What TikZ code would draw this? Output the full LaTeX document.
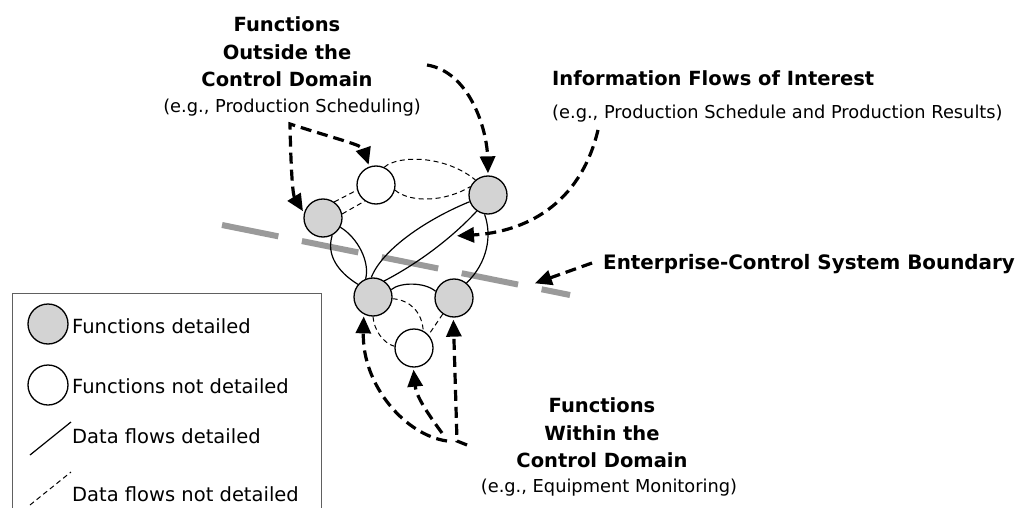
\documentclass[tikz,border=0pt]{standalone}
\usepackage{fontspec}
\setmainfont{DejaVu Sans}
\usetikzlibrary{arrows.meta}
\definecolor{fillgray}{HTML}{D3D3D3}
\definecolor{bndgray}{HTML}{9A9A9A}
\definecolor{boxgray}{HTML}{606060}
\tikzset{bigtip/.tip={Triangle[length=17pt,width=15pt]}}
\begin{document}
\begin{tikzpicture}[x=1pt,y=-1pt,
  fd/.style={circle,draw,line width=1.3pt,fill=fillgray,minimum size=38pt,inner sep=0pt},
  fn/.style={circle,draw,line width=1.3pt,fill=white,minimum size=38pt,inner sep=0pt},
  flow/.style={line width=1.2pt},
  flowdash/.style={line width=1pt,dash pattern=on 5pt off 3.5pt},
  callout/.style={line width=3.2pt,dash pattern=on 11pt off 6pt,miter limit=20,
    -{bigtip},shorten >=2pt},
  boundary/.style={bndgray,line width=6pt,dash pattern=on 57.5pt off 24pt},
  head/.style={font=\bfseries\fontsize{19.5}{27.5}\selectfont,align=center,inner sep=0pt},
  note/.style={font=\fontsize{17.8}{22}\selectfont,inner sep=0pt},
  legtext/.style={font=\fontsize{19.5}{23}\selectfont,anchor=west,inner sep=0pt}]
\useasboundingbox (0,0) rectangle (1019,508);
\clip (0,0) rectangle (1019,508);

% enterprise-control system boundary
\coordinate (bs) at (222,225);
\coordinate (be) at (570,295);
\draw[boundary] (bs) -- (be);

% functions
\node[fd] (A) at (323,218) {};
\node[fn] (B) at (376,185) {};
\node[fd] (C) at (488,195) {};
\node[fd] (D) at (373,297) {};
\node[fd] (E) at (454,298) {};
\node[fn] (F) at (414,348) {};

% detailed data flows
\draw[flow] (A.-62) .. controls (326,255) and (338,272) .. (D.140);
\draw[flow] (A.-28) .. controls (358,238) and (370,262) .. (D.112);
\draw[flow] (D.95) .. controls (382,250) and (425,220) .. (C.200);
\draw[flow] (D.55) .. controls (415,265) and (450,240) .. (C.235);
\draw[flow] (C.-100) .. controls (492,235) and (488,262) .. (E.50);
\draw[flow] (D.22) .. controls (400,282) and (425,282) .. (E.160);

% data flows not detailed
\draw[flowdash] (A.55) -- (B.195);
\draw[flowdash] (A.12) -- (B.235);
\draw[flowdash] (B.65) .. controls (398,155) and (445,155) .. (C.130);
\draw[flowdash] (B.-15) .. controls (410,203) and (445,202) .. (C.155);
\draw[flowdash] (D.-90) .. controls (374,330) and (383,343) .. (F.175);
\draw[flowdash] (D.-5) .. controls (410,300) and (422,312) .. (F.62);
\draw[flowdash] (E.-125) -- (F.42);

% labels
\node[head] (outT) at (287,52) {Functions\\Outside the\\Control Domain};
\node[note] (outE) at (292,108) {(e.g., Production Scheduling)};
\node[head,anchor=west] (infT) at (552,78) {Information Flows of Interest};
\node[note,anchor=west] (infE) at (552,114) {(e.g., Production Schedule and Production Results)};
\node[head,anchor=west,font=\bfseries\fontsize{19.9}{27.5}\selectfont] (bndT) at (603,264) {Enterprise-Control System Boundary};
\node[head] (inT) at (602,433) {Functions\\Within the\\Control Domain};
\node[note] (inE) at (609,488) {(e.g., Equipment Monitoring)};

% callout arrows
\coordinate (oc) at (290,124);
\draw[callout,{bigtip}-{bigtip},shorten <=2pt]
  (A.165) .. controls (293,195) and (291,175) .. (oc)
  .. controls (340,140) and (362,145) .. (B.110);
\coordinate (tc) at (427,65);
\draw[callout] (tc) .. controls (470,72) and (487,130) .. (C.90);
\coordinate (ic) at (598,130);
\coordinate (it) at (455,236);
\draw[callout] (ic) .. controls (580,205) and (525,232) .. (it);
\coordinate (bc) at (592,263);
\coordinate (bt) at (533,284);
\draw[callout] (bc) -- (bt);
\coordinate (hubD) at (447,441);
\coordinate (hubF) at (442,433);
\coordinate (hubE) at (467,445);
\draw[callout] (hubD) .. controls (405,435) and (362,385) .. (D.-118);
\draw[callout] (hubF) .. controls (425,410) and (416,395) .. (F.-92);
\draw[callout] (hubE) -- (457,441) -- (E.-92);

% legend
\node[draw=boxgray,line width=1.3pt,anchor=north west,minimum width=309pt,minimum height=240pt,inner sep=0pt] (legend) at (12,293) {};
\node[fd,minimum size=40pt] (k1) at (48,324) {};
\node[legtext] (k1t) at (72,326) {Functions detailed};
\node[fn,minimum size=40pt] (k2) at (48,385) {};
\node[legtext] (k2t) at (72,386) {Functions not detailed};
\coordinate (k3a) at (30,455);
\coordinate (k3b) at (71,422);
\draw[flow] (k3a) -- (k3b);
\node[legtext] (k3t) at (72,436) {Data flows detailed};
\coordinate (k4a) at (30,505);
\coordinate (k4b) at (71,472);
\draw[flowdash] (k4a) -- (k4b);
\node[legtext] (k4t) at (72,494) {Data flows not detailed};
\end{tikzpicture}
\end{document}
